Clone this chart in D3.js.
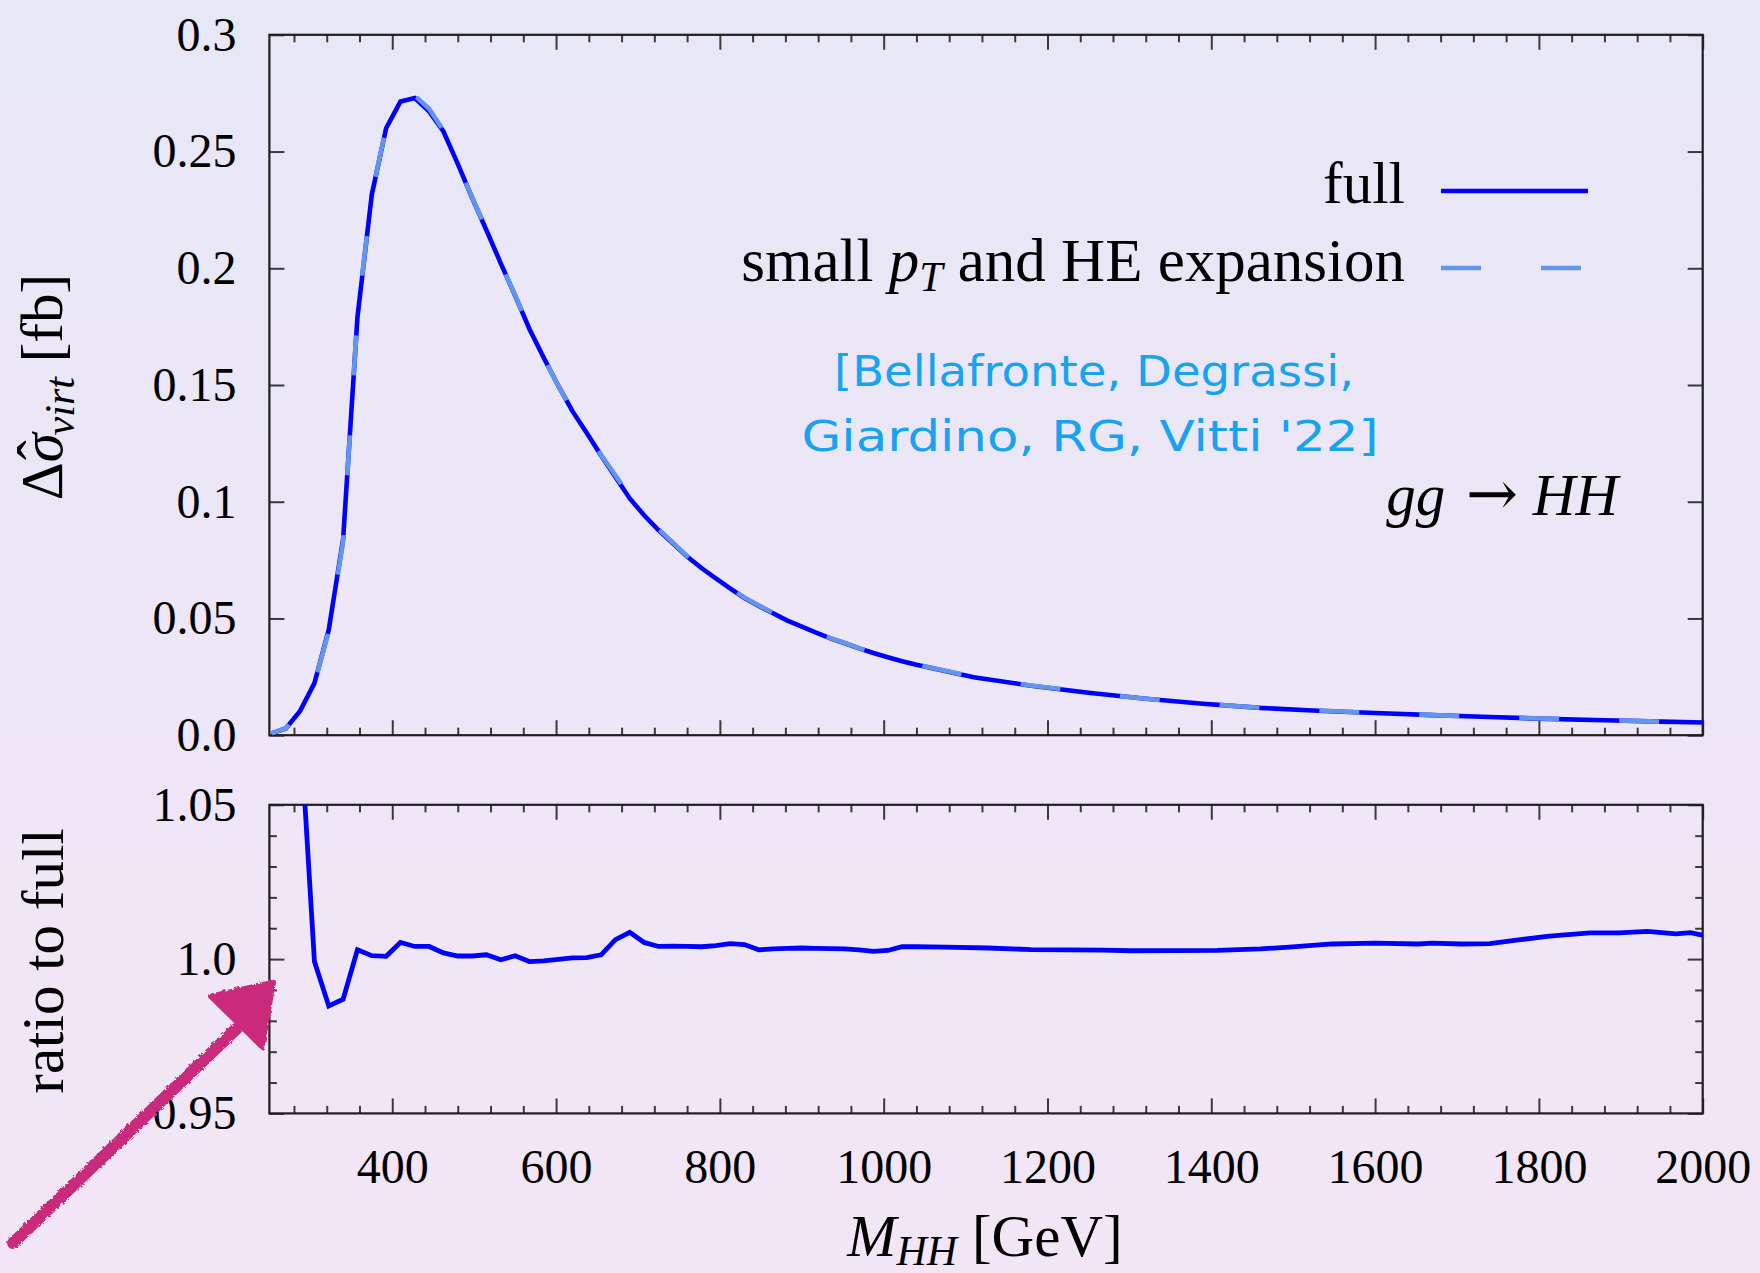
<!DOCTYPE html>
<html><head><meta charset="utf-8">
<script src="https://cdn.jsdelivr.net/npm/d3@7"></script>
<style>html,body{margin:0;padding:0;background:#ebe8f6;} svg{display:block;}</style>
</head><body>
<script>
// ---------------- data ----------------
const massFull = [252.5,270,287.5,305,322.5,340,357.5,375,392.5,410,427.5,445,462.5,480,497.5,515,532.5,550,567.5,585,
  602.5,620,637.5,655,672.5,690,707.5,725,742.5,760,777.5,795,812.5,830,847.5,865,882.5,900,917.5,935,
  952.5,970,987.5,1005,1022.5,1040,1110,1180,1250,1320,1390,1460,1530,1600,1670,1740,1810,1880,1950,2002.5];
const full = [0.0008,0.0029,0.0104,0.0223,0.0452,0.0840,0.1790,0.2315,0.2600,0.2714,0.2729,0.2672,0.2586,0.2447,0.2302,0.2163,0.2021,0.1883,0.1740,0.1617,
  0.1498,0.1388,0.1294,0.1198,0.1106,0.1014,0.0942,0.0879,0.0822,0.0765,0.0716,0.0672,0.0629,0.0587,0.0554,0.0522,0.0491,0.0465,0.0439,0.0415,
  0.0394,0.0372,0.0352,0.0334,0.0317,0.0302,0.0248,0.0212,0.0182,0.0156,0.0135,0.0117,0.0105,0.0095,0.0086,0.0078,0.0070,0.0064,0.0058,0.0054];
const expansion = [0.0008,0.0030,0.0106,0.0223,0.0445,0.0829,0.1795,0.2318,0.2602,0.2729,0.2740,0.2683,0.2591,0.2449,0.2304,0.2166,0.2021,0.1885,0.1739,0.1616,
  0.1498,0.1389,0.1295,0.1200,0.1113,0.1023,0.0947,0.0883,0.0825,0.0768,0.0719,0.0675,0.0632,0.0590,0.0556,0.0524,0.0493,0.0467,0.0441,0.0416,
  0.0395,0.0373,0.0353,0.0335,0.0318,0.0303,0.0249,0.0213,0.0183,0.0156,0.0135,0.0117,0.0106,0.0095,0.0086,0.0078,0.0071,0.0065,0.0058,0.0054];
const massRatio = [270,287.5,305,322.5,340,357.5,375,392.5,410,427.5,445,462.5,480,497.5,515,532.5,550,567.5,585,602.5,
  620,637.5,655,672.5,690,707.5,725,742.5,760,777.5,795,812.5,830,847.5,865,882.5,900,917.5,935,952.5,
  970,987.5,1005,1022.5,1040,1075,1127.5,1180,1267.5,1302.5,1407.5,1460,1495,1547.5,1600,1652.5,1670,1705,1740,1775,
  1810,1827.5,1862.5,1897.5,1932.5,1967.5,1985,2002.5];
const ratio = [1.25,1.076,0.9992,0.9848,0.9870,1.0030,1.0011,1.0009,1.0054,1.0041,1.0041,1.0020,1.0010,1.0010,1.0014,0.9998,1.0011,0.9992,0.9994,0.9999,
  1.0004,1.0005,1.0014,1.0063,1.0087,1.0054,1.0041,1.0042,1.0041,1.0040,1.0044,1.0050,1.0047,1.0030,1.0033,1.0035,1.0036,1.0035,1.0034,1.0033,
  1.0030,1.0025,1.0028,1.0040,1.0040,1.0039,1.0036,1.0031,1.0029,1.0027,1.0028,1.0033,1.0039,1.0049,1.0052,1.0049,1.0052,1.0049,1.0050,1.0062,
  1.0074,1.0078,1.0085,1.0085,1.0090,1.0082,1.0086,1.0076];
const xTickValues = [400,600,800,1000,1200,1400,1600,1800,2000];
const xTickLabels = ["400","600","800","1000","1200","1400","1600","1800","2000"];
const yTopTicks = [0,0.05,0.1,0.15,0.2,0.25,0.3];
const yTopLabels = ["0.0","0.05","0.1","0.15","0.2","0.25","0.3"];
const yBotTicks = [0.95,1.0,1.05];
const yBotLabels = ["0.95","1.0","1.05"];
const yBotMinor = [0.96,0.97,0.98,0.99,1.01,1.02,1.03,1.04];
const xMinor = d3.range(280,2000,40).filter(v => v % 200 !== 0);
const seriesNames = ["full","small p_T and HE expansion"];
// annotation arrow (in data coords of the ratio panel)
const arrowTail = [-63,0.908], arrowShaftEnd = [216,0.9790];
const arrowHead = [[255,0.9925],[178,0.9880],[241,0.9715]];

// ---------------- layout ----------------
const W=1760,H=1273;
const FONT='"Liberation Serif","Times New Roman",serif';
const svg=d3.select("body").append("svg").attr("width",W).attr("height",H);
const defs=svg.append("defs");
const grad=defs.append("linearGradient").attr("id","bg").attr("x1",0).attr("y1",0).attr("x2",0).attr("y2",1);
grad.append("stop").attr("offset","0%").attr("stop-color","#e7e7f6");
grad.append("stop").attr("offset","100%").attr("stop-color","#f3e6f6");
svg.append("rect").attr("width",W).attr("height",H).attr("fill","url(#bg)");

const L=269.4,R=1702.7, T1=34.8,B1=735.2, T2=804.8,B2=1113.4;
const x=d3.scaleLinear().domain([250,2000]).range([L,R]);
const yTop=d3.scaleLinear().domain([0,0.3]).range([B1,T1]);
const yBot=d3.scaleLinear().domain([0.95,1.05]).range([B2,T2]);

defs.append("clipPath").attr("id","c1").append("rect").attr("x",L).attr("y",T1).attr("width",R-L).attr("height",B1-T1);
defs.append("clipPath").attr("id","c2").append("rect").attr("x",L).attr("y",T2).attr("width",R-L).attr("height",B2-T2);

const MAJ=15, MIN=7.5, TICKCOL="#3a3a3a";
function styleAxis(g){ g.select(".domain").remove(); g.selectAll(".tick line").attr("stroke",TICKCOL).attr("stroke-width",2); }

function frameAxes(yS, top, bot, yTicks, yLabels, yMinor){
  svg.append("g").attr("transform",`translate(0,${bot})`).call(d3.axisBottom(x).tickValues(xTickValues).tickSize(-MAJ).tickFormat("")).call(styleAxis);
  svg.append("g").attr("transform",`translate(0,${bot})`).call(d3.axisBottom(x).tickValues(xMinor).tickSize(-MIN).tickFormat("")).call(styleAxis);
  svg.append("g").attr("transform",`translate(0,${top})`).call(d3.axisTop(x).tickValues(xTickValues).tickSize(-MAJ).tickFormat("")).call(styleAxis);
  svg.append("g").attr("transform",`translate(0,${top})`).call(d3.axisTop(x).tickValues(xMinor).tickSize(-MIN).tickFormat("")).call(styleAxis);
  const gl=svg.append("g").attr("transform",`translate(${L},0)`)
    .call(d3.axisLeft(yS).tickValues(yTicks).tickSize(-MAJ).tickFormat((d,i)=>yLabels[i])).call(styleAxis);
  gl.selectAll("text").attr("x",-33).attr("font-family",FONT).attr("font-size",48).attr("fill","#000");
  svg.append("g").attr("transform",`translate(${R},0)`).call(d3.axisRight(yS).tickValues(yTicks).tickSize(-MAJ).tickFormat("")).call(styleAxis);
  if(yMinor){
    svg.append("g").attr("transform",`translate(${L},0)`).call(d3.axisLeft(yS).tickValues(yMinor).tickSize(-MIN).tickFormat("")).call(styleAxis);
    svg.append("g").attr("transform",`translate(${R},0)`).call(d3.axisRight(yS).tickValues(yMinor).tickSize(-MIN).tickFormat("")).call(styleAxis);
  }
  svg.append("rect").attr("x",L).attr("y",top).attr("width",R-L).attr("height",bot-top)
    .attr("fill","none").attr("stroke","#1e1e1e").attr("stroke-width",2.2);
}
frameAxes(yTop,T1,B1,yTopTicks,yTopLabels,null);
frameAxes(yBot,T2,B2,yBotTicks,yBotLabels,yBotMinor);

const gx=svg.append("g").attr("transform",`translate(0,${B2})`)
  .call(d3.axisBottom(x).tickValues(xTickValues).tickSize(0).tickPadding(36).tickFormat((d,i)=>xTickLabels[i]));
gx.select(".domain").remove();
gx.selectAll("text").attr("font-family",FONT).attr("font-size",48).attr("fill","#000");

// ---------------- curves ----------------
const lineTop=d3.line().x(d=>x(d[0])).y(d=>yTop(d[1]));
const lineBot=d3.line().x(d=>x(d[0])).y(d=>yBot(d[1]));
const gTop=svg.append("g").attr("clip-path","url(#c1)");
gTop.append("path").datum(massFull.map((m,i)=>[m,full[i]])).attr("d",lineTop)
  .attr("fill","none").attr("stroke","#0000ff").attr("stroke-width",4.6);
gTop.append("path").datum(massFull.map((m,i)=>[m,expansion[i]])).attr("d",lineTop)
  .attr("fill","none").attr("stroke","#6495ed").attr("stroke-width",4.6).attr("stroke-dasharray","40,60").attr("stroke-dashoffset",20);
const gBot=svg.append("g").attr("clip-path","url(#c2)");
gBot.append("path").datum(massRatio.map((m,i)=>[m,ratio[i]])).attr("d",lineBot)
  .attr("fill","none").attr("stroke","#0000ff").attr("stroke-width",4.8);

// ---------------- legend ----------------
const legX0=1441, legX1=1588;
svg.append("text").attr("x",1405).attr("y",203).attr("text-anchor","end")
  .attr("font-family",FONT).attr("font-size",59).text(seriesNames[0]);
svg.append("line").attr("x1",legX0).attr("x2",legX1).attr("y1",191).attr("y2",191).attr("stroke","#0000ff").attr("stroke-width",4.6);
const t2=svg.append("text").attr("x",1405).attr("y",281).attr("text-anchor","end").attr("font-family",FONT).attr("font-size",61);
t2.append("tspan").text("small ");
t2.append("tspan").attr("font-style","italic").text("p");
t2.append("tspan").attr("font-style","italic").attr("font-size",42).attr("dy",10).text("T");
t2.append("tspan").attr("dy",-10).text(" and HE expansion");
svg.append("line").attr("x1",legX0).attr("x2",legX1).attr("y1",268).attr("y2",268).attr("stroke","#6495ed").attr("stroke-width",4.6).attr("stroke-dasharray","40,60");

// citation
const CIT='"Comic Sans MS","Segoe Print",cursive,"DejaVu Sans",sans-serif';
svg.append("text").attr("x",1094).attr("y",386).attr("text-anchor","middle").attr("font-family",CIT).attr("font-size",42)
  .attr("fill","#17a2f2").attr("textLength",520).attr("lengthAdjust","spacingAndGlyphs").text("[Bellafronte, Degrassi,");
svg.append("text").attr("x",1090).attr("y",451).attr("text-anchor","middle").attr("font-family",CIT).attr("font-size",42)
  .attr("fill","#17a2f2").attr("textLength",577).attr("lengthAdjust","spacingAndGlyphs").text("Giardino, RG, Vitti  '22]");

// process label
const pl=svg.append("text").attr("x",1618).attr("y",515).attr("text-anchor","end").attr("font-family",FONT).attr("font-size",59);
pl.append("tspan").attr("font-style","italic").text("gg ");
pl.append("tspan").attr("font-family","'DejaVu Serif',serif").attr("font-size",62).attr("dx",6).text("\u2192");
pl.append("tspan").attr("font-style","italic").text(" HH");

// axis titles
const yl=svg.append("text").attr("transform","translate(62,387) rotate(-90)").attr("text-anchor","middle").attr("font-family",FONT).attr("font-size",59);
yl.append("tspan").text("\u0394");
yl.append("tspan").attr("font-style","italic").text("\u03C3");
yl.append("tspan").attr("dx",-27).attr("dy",-4).text("\u02C6");
yl.append("tspan").attr("font-style","italic").attr("font-size",42).attr("dx",5).attr("dy",16).text("virt");
yl.append("tspan").attr("dy",-12).text(" [fb]");
svg.append("text").attr("transform","translate(63,961) rotate(-90)").attr("text-anchor","middle").attr("font-family",FONT).attr("font-size",59).text("ratio to full");
const xl=svg.append("text").attr("x",985).attr("y",1256).attr("text-anchor","middle").attr("font-family",FONT).attr("font-size",59);
xl.append("tspan").attr("font-style","italic").text("M");
xl.append("tspan").attr("font-style","italic").attr("font-size",42).attr("dy",9).text("HH");
xl.append("tspan").attr("dy",-9).text(" [GeV]");

// ---------------- hand-drawn arrow ----------------
const rough=defs.append("filter").attr("id","rough").attr("x","-10%").attr("y","-10%").attr("width","120%").attr("height","120%");
rough.append("feTurbulence").attr("type","fractalNoise").attr("baseFrequency",0.35).attr("numOctaves",2).attr("result","n");
rough.append("feDisplacementMap").attr("in","SourceGraphic").attr("in2","n").attr("scale",4);
const ga=svg.append("g").attr("filter","url(#rough)");
ga.append("line").attr("x1",x(arrowTail[0])).attr("y1",yBot(arrowTail[1])).attr("x2",x(arrowShaftEnd[0])).attr("y2",yBot(arrowShaftEnd[1]))
  .attr("stroke","#c92a7b").attr("stroke-width",12).attr("stroke-linecap","round");
ga.append("path").attr("d",d3.line()(arrowHead.map(p=>[x(p[0]),yBot(p[1])]))+"Z").attr("fill","#c92a7b").attr("stroke","#c92a7b").attr("stroke-width",5).attr("stroke-linejoin","round");
</script>
</body></html>
